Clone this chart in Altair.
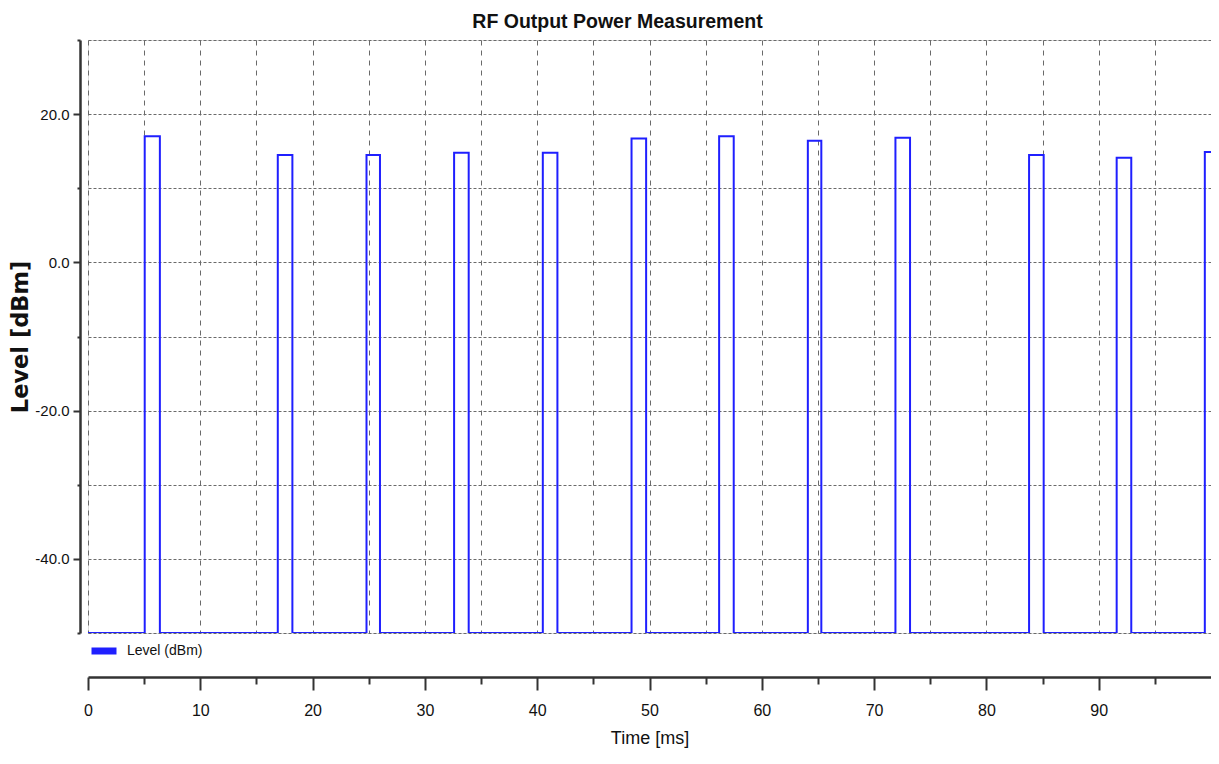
import altair as alt
import pandas as pd

# Pulse data (time in ms, level in dBm)
pulse_start = [5.05, 16.9, 24.8, 32.6, 40.5, 48.4, 56.2, 64.1, 71.9, 83.8, 91.6, 99.45]
pulse_end = [6.4, 18.2, 26.0, 33.9, 41.8, 49.7, 57.5, 65.3, 73.2, 85.1, 92.9, 100.5]
pulse_level = [17.0, 14.5, 14.5, 14.8, 14.8, 16.7, 17.0, 16.4, 16.8, 14.5, 14.1, 14.9]
floor_level = -50.0
t_min, t_max = 0.0, 100.0

x_major = [0, 10, 20, 30, 40, 50, 60, 70, 80, 90]
x_minor = [5, 15, 25, 35, 45, 55, 65, 75, 85, 95]
y_major = [-40, -20, 0, 20]
y_minor = [-50, -30, -10, 10, 30]

SERIES = "Level (dBm)"

rows = [{"t": t_min, "level": floor_level, "series": SERIES}]
for s, e, lv in zip(pulse_start, pulse_end, pulse_level):
    rows += [
        {"t": s, "level": floor_level, "series": SERIES},
        {"t": s, "level": lv, "series": SERIES},
        {"t": e, "level": lv, "series": SERIES},
        {"t": e, "level": floor_level, "series": SERIES},
    ]
rows.append({"t": t_max + 1, "level": floor_level, "series": SERIES})
df = pd.DataFrame(rows)
df["order"] = range(len(df))

SANS = "Liberation Sans"
xscale = alt.Scale(domain=[t_min, t_max], nice=False, zero=False)
yscale = alt.Scale(domain=[-50, 30], nice=False, zero=False)

grid_common = dict(grid=True, gridColor="#6a6a6a", gridWidth=1)

line = alt.Chart(df).mark_line(color="#1f1fff", strokeWidth=2, clip=True, interpolate="linear").encode(
    x=alt.X("t:Q", scale=xscale,
            axis=alt.Axis(orient="bottom", values=x_major, offset=44, tickSize=13, tickWidth=2,
                          tickColor="#333", domainColor="#333", domainWidth=2.5,
                          labelFont=SANS, labelFontSize=16, labelColor="#111", labelPadding=12,
                          labelFlush=False,
                          title="Time [ms]", titleFont=SANS, titleFontSize=18, titleFontWeight="normal",
                          titleColor="#111", titlePadding=11,
                          gridDash=[5, 5], **grid_common)),
    y=alt.Y("level:Q", scale=yscale,
            axis=alt.Axis(orient="left", values=y_major, offset=8, tickSize=7, tickWidth=2,
                          tickColor="#333", domainColor="#333", domainWidth=2.5,
                          labelFont=SANS, labelFontSize=15, labelColor="#111", labelPadding=4,
                          labelFlush=False,
                          labelExpr="(datum.value < 0 ? '-' : '') + format(abs(datum.value), '.1f')",
                          title="Level [dBm]", titleFont="DejaVu Sans", titleFontSize=22.5,
                          titleFontWeight="bold", titleColor="#111", titlePadding=2,
                          gridDash=[3, 2], **grid_common)),
    order="order:Q",
    color=alt.Color("series:N", scale=alt.Scale(domain=[SERIES], range=["#1f1fff"]),
                    legend=alt.Legend(title=None, orient="none", legendX=0, legendY=595,
                                      padding=0,
                                      symbolType="stroke", symbolStrokeWidth=7, symbolSize=625,
                                      labelFont=SANS, labelFontSize=14, labelColor="#111",
                                      labelOffset=7)),
)

minor = alt.Chart(df).mark_point(opacity=0).encode(
    x=alt.X("t:Q", scale=xscale,
            axis=alt.Axis(orient="bottom", values=x_minor, offset=44, tickSize=7, tickWidth=2,
                          tickColor="#333", domain=False, labels=False, title=None,
                          gridDash=[5, 5], **grid_common)),
    y=alt.Y("level:Q", scale=yscale,
            axis=alt.Axis(orient="left", values=y_minor, offset=8, tickSize=3, tickWidth=2,
                          tickColor="#333", domain=False, labels=False, title=None,
                          gridDash=[3, 2], **grid_common)),
)

chart = alt.layer(minor, line).resolve_axis(x="independent", y="independent").properties(
    width=1123, height=593,
    title=alt.TitleParams("RF Output Power Measurement", font=SANS, fontSize=19.5,
                          fontWeight="bold", color="#111", anchor="middle", dx=-32, offset=7),
    autosize=alt.AutoSizeParams(type="none"),
    padding={"left": 80, "top": 32, "right": 0, "bottom": 122},
).configure_view(stroke="#8a8a8a", strokeWidth=2).configure(background="white")

chart.save("out.html", embed_options={"renderer": "svg", "actions": False})
